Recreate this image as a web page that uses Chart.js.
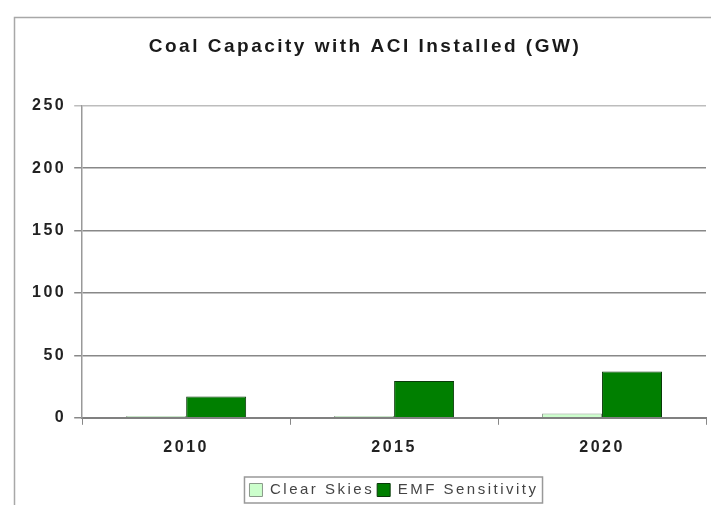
<!DOCTYPE html>
<html>
<head>
<meta charset="utf-8">
<script src="https://cdn.jsdelivr.net/npm/chart.js@4"></script>
<style>
  html, body { margin: 0; padding: 0; background: #fff; }
  #wrap { width: 711px; height: 505px; }
</style>
</head>
<body>
<div id="wrap"><canvas id="chartCoal" width="711" height="505"></canvas></div>
<script>
const years = ['2010', '2015', '2020'];
const clearSkies = [1.5, 1.5, 3.5];
const emfSensitivity = [17, 29.5, 37];
const yTicks = [0, 50, 100, 150, 200, 250];

const fontFamily = '"Liberation Sans", Arial, sans-serif';
const spacing = '2.5px';
const legendShiftX = 29;
const legendShiftY = 2.5;

// wide letter spacing, outer frame, legend box
const framePlugin = {
    id: 'frame',
    beforeUpdate(chart) {
        chart.ctx.letterSpacing = spacing;
    },
    afterUpdate(chart) {
        const lg = chart.legend;
        lg.left += legendShiftX;
        lg.right += legendShiftX;
        lg.top += legendShiftY;
        lg.bottom += legendShiftY;
        lg.legendHitBoxes.forEach(b => {
            b.left += legendShiftX;
            b.top += legendShiftY;
        });
    },
    beforeDraw(chart) {
        const ctx = chart.ctx;
        ctx.letterSpacing = spacing;
        ctx.save();
        ctx.fillStyle = '#fff';
        ctx.fillRect(0, 0, chart.width, chart.height);
        ctx.strokeStyle = '#a8a8a8';
        ctx.lineWidth = 1.5;
        ctx.strokeRect(14.5, 17.5, 720, 600);
        ctx.restore();
    },
    afterDraw(chart) {
        const boxes = chart.legend.legendHitBoxes;
        if (!boxes || !boxes.length) return;
        const ctx = chart.ctx;
        const left = Math.min(...boxes.map(b => b.left)) - 5;
        const right = Math.max(...boxes.map(b => b.left + b.width)) + 4;
        const top = Math.min(...boxes.map(b => b.top)) - 5.5;
        const bottom = Math.max(...boxes.map(b => b.top + b.height)) + 5.5;
        ctx.save();
        ctx.strokeStyle = '#999';
        ctx.lineWidth = 1.5;
        ctx.strokeRect(left, top, right - left, bottom - top);
        ctx.restore();
    }
};

const ctx = document.getElementById('chartCoal').getContext('2d');
const myChart = new Chart(ctx, {
    type: 'bar',
    data: {
        labels: years,
        datasets: [{
            label: 'Clear Skies',
            data: clearSkies,
            backgroundColor: '#ccffcc',
            borderColor: '#8a9a8a',
            borderWidth: 1
        }, {
            label: 'EMF Sensitivity',
            data: emfSensitivity,
            backgroundColor: '#007f00',
            borderColor: '#0a3a0a',
            borderWidth: 1
        }]
    },
    options: {
        responsive: false,
        animation: false,
        layout: { padding: { top: 35, left: 24, right: 5, bottom: 0 } },
        datasets: {
            bar: { categoryPercentage: 0.577, barPercentage: 1 }
        },
        plugins: {
            title: {
                display: true,
                text: 'Coal Capacity with ACI Installed (GW)',
                color: '#1a1a1a',
                font: { family: fontFamily, size: 19, weight: 'bold' },
                padding: { top: 0, bottom: 48 }
            },
            legend: {
                position: 'bottom',
                labels: {
                    color: '#444',
                    font: { family: fontFamily, size: 15 },
                    boxWidth: 13,
                    boxHeight: 13,
                    padding: 3
                }
            },
            tooltip: { enabled: false }
        },
        scales: {
            x: {
                afterFit(axis) {
                    axis.height += 7;
                },
                grid: {
                    display: true,
                    drawOnChartArea: false,
                    offset: true,
                    color: '#888',
                    tickLength: 7
                },
                border: { display: true, color: '#808080', width: 2 },
                ticks: {
                    color: '#222',
                    font: { family: fontFamily, size: 16, weight: 'bold' },
                    padding: 13
                }
            },
            y: {
                min: 0,
                max: 250,
                afterBuildTicks(axis) {
                    axis.ticks = yTicks.map(v => ({ value: v }));
                },
                grid: {
                    color: c => (c.tick && c.tick.value === 250) ? '#bdbdbd' : '#888',
                    lineWidth: 1.5,
                    tickLength: 8
                },
                border: { display: true, color: '#999', width: 1.5 },
                ticks: {
                    color: '#222',
                    font: { family: fontFamily, size: 16, weight: 'bold' },
                    padding: 8
                }
            }
        }
    },
    plugins: [framePlugin]
});
</script>
</body>
</html>
